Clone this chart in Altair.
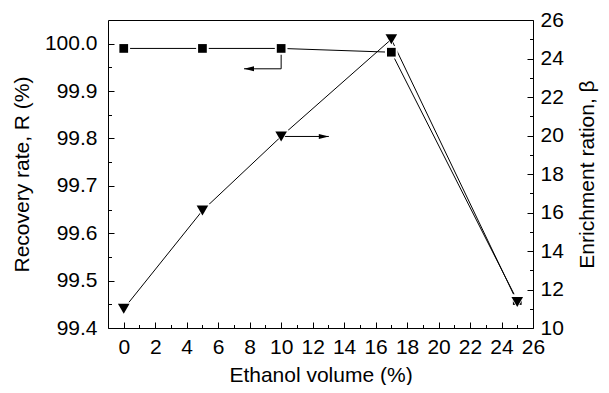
import altair as alt
import pandas as pd

# ---- data ----
ethanol = [0, 5, 10, 17, 25]
recovery = [99.99, 99.99, 99.99, 99.982, 99.458]
enrichment = [11.0, 16.1, 19.95, 25.0, 11.35]

# tick values
x_major = list(range(0, 27, 2))
x_minor = list(range(1, 26, 2))
r_major = [99.4, 99.5, 99.6, 99.7, 99.8, 99.9, 100.0]
r_minor = [99.45, 99.55, 99.65, 99.75, 99.85, 99.95]
b_major = list(range(10, 27, 2))
b_minor = list(range(11, 26, 2))

# annotation arrows (data coordinates)
arrow_r_x = [10, 10, 7.64]
arrow_r_y = [99.99, 99.947, 99.947]
arrow_b_x = [10, 13.03]
arrow_b_y = [19.95, 19.95]

FONT = "Liberation Sans"
FS = 21

x_dom = [-1, 26]
r_dom = [99.4, 100.05]
b_dom = [10, 26]

df = pd.DataFrame({"x": ethanol, "R": recovery, "B": enrichment})
df_ar = pd.DataFrame({"x": arrow_r_x, "y": arrow_r_y, "o": list(range(len(arrow_r_x)))})
df_ab = pd.DataFrame({"x": arrow_b_x, "y": arrow_b_y, "o": list(range(len(arrow_b_x)))})
df_ar_tip = df_ar.tail(1)
df_ab_tip = df_ab.tail(1)

xs = alt.Scale(domain=x_dom, nice=False, zero=False)
rs = alt.Scale(domain=r_dom, nice=False, zero=False)
bs = alt.Scale(domain=b_dom, nice=False, zero=False)

common = dict(domain=False, grid=False, tickColor="black", tickWidth=1,
              labelFont=FONT, labelFontSize=FS, labelColor="black",
              titleFont=FONT, titleFontSize=FS, titleFontWeight="normal",
              titleColor="black", labelFlush=False, labelOverlap=False)

x_axis_major = alt.Axis(orient="bottom", values=x_major, offset=-6, tickSize=6,
                        labelPadding=8, title="Ethanol volume (%)", titlePadding=7,
                        **common)
x_axis_minor = alt.Axis(orient="bottom", values=x_minor, offset=-3.5, tickSize=3.5,
                        labels=False, title="", **common)
r_axis_major = alt.Axis(orient="left", values=r_major, format=".1f", offset=-6,
                        tickSize=6, labelPadding=11, title="Recovery rate, R (%)",
                        titlePadding=12, **common)
r_axis_minor = alt.Axis(orient="left", values=r_minor, offset=-3.5, tickSize=3.5,
                        labels=False, title="", **common)
b_axis_major = alt.Axis(orient="right", values=b_major, format="d", offset=-6,
                        tickSize=6, labelPadding=7, title="Enrichment ration, β",
                        titlePadding=13, titleAngle=270, titleBaseline="top", **common)
b_axis_minor = alt.Axis(orient="right", values=b_minor, offset=-3.5, tickSize=3.5,
                        labels=False, title="", **common)

base = alt.Chart(df)

line_r = base.mark_line(color="black", strokeWidth=1).encode(
    x=alt.X("x:Q", scale=xs, axis=x_axis_major),
    y=alt.Y("R:Q", scale=rs, axis=r_axis_major),
)
minor_r = base.mark_point(opacity=0).encode(
    x=alt.X("x:Q", scale=xs, axis=x_axis_minor),
    y=alt.Y("R:Q", scale=rs, axis=r_axis_minor),
)
line_b = base.mark_line(color="black", strokeWidth=1).encode(
    x=alt.X("x:Q", scale=xs, axis=None),
    y=alt.Y("B:Q", scale=bs, axis=b_axis_major),
)
minor_b = base.mark_point(opacity=0).encode(
    x=alt.X("x:Q", scale=xs, axis=None),
    y=alt.Y("B:Q", scale=bs, axis=b_axis_minor),
)

arrow_r_line = alt.Chart(df_ar).mark_line(color="black", strokeWidth=1).encode(
    x=alt.X("x:Q", scale=xs, axis=None),
    y=alt.Y("y:Q", scale=rs, axis=None),
    order="o:O",
)
arrow_r_head = alt.Chart(df_ar_tip).mark_point(
    shape="M0,0L2,-0.5L2,0.5Z", filled=True, size=100, color="black", opacity=1
).encode(
    x=alt.X("x:Q", scale=xs, axis=None),
    y=alt.Y("y:Q", scale=rs, axis=None),
)
arrow_b_line = alt.Chart(df_ab).mark_line(color="black", strokeWidth=1).encode(
    x=alt.X("x:Q", scale=xs, axis=None),
    y=alt.Y("y:Q", scale=bs, axis=None),
    order="o:O",
)
arrow_b_head = alt.Chart(df_ab_tip).mark_point(
    shape="M0,0L-2,-0.5L-2,0.5Z", filled=True, size=100, color="black", opacity=1
).encode(
    x=alt.X("x:Q", scale=xs, axis=None),
    y=alt.Y("y:Q", scale=bs, axis=None),
)

halo_r = base.mark_point(shape="square", filled=True, size=160, color="white", opacity=1).encode(
    x=alt.X("x:Q", scale=xs, axis=None),
    y=alt.Y("R:Q", scale=rs, axis=None),
)
pts_r = base.mark_point(shape="square", filled=True, size=76, color="black", opacity=1).encode(
    x=alt.X("x:Q", scale=xs, axis=None),
    y=alt.Y("R:Q", scale=rs, axis=None),
)
halo_b = base.mark_point(shape="triangle-down", filled=True, size=230, color="white", opacity=1).encode(
    x=alt.X("x:Q", scale=xs, axis=None),
    y=alt.Y("B:Q", scale=bs, axis=None),
)
pts_b = base.mark_point(shape="triangle-down", filled=True, size=135, color="black", opacity=1).encode(
    x=alt.X("x:Q", scale=xs, axis=None),
    y=alt.Y("B:Q", scale=bs, axis=None),
)

chart = alt.layer(
    line_r, minor_r, line_b, minor_b,
    arrow_r_line, arrow_r_head, arrow_b_line, arrow_b_head,
    halo_r, pts_r, halo_b, pts_b,
).resolve_scale(
    y="independent"
).resolve_axis(
    x="independent", y="independent"
).properties(
    width=425, height=308,
    autosize=alt.AutoSizeParams(type="none"),
    padding={"left": 100, "top": 12, "right": 68, "bottom": 57},
    background="white",
).configure_view(
    stroke="black", strokeWidth=1
)

chart.save("out.html", embed_options={"renderer": "svg", "actions": False})
